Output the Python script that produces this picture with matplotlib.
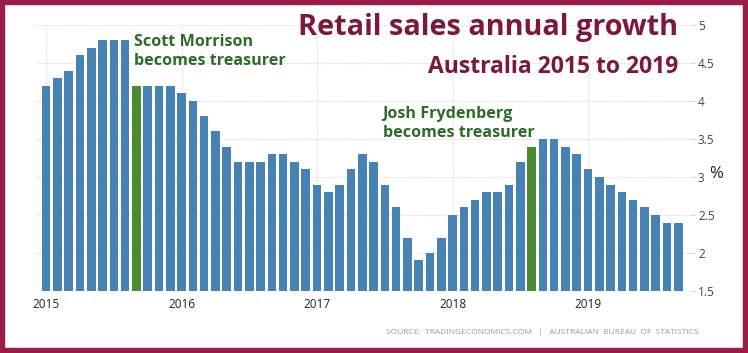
import matplotlib.pyplot as plt
from matplotlib.patches import Rectangle

# monthly retail sales annual growth, Jan 2015 .. Sep 2019
growth = [4.2, 4.3, 4.4, 4.6, 4.7, 4.8, 4.8, 4.8, 4.2, 4.2, 4.2, 4.2,
          4.1, 4.0, 3.8, 3.6, 3.4, 3.2, 3.2, 3.2, 3.3, 3.3, 3.2, 3.1,
          2.9, 2.8, 2.9, 3.1, 3.3, 3.2, 2.9, 2.6, 2.2, 1.9, 2.0, 2.2,
          2.5, 2.6, 2.7, 2.8, 2.8, 2.9, 3.2, 3.4, 3.5, 3.5, 3.4, 3.3,
          3.1, 3.0, 2.9, 2.8, 2.7, 2.6, 2.5, 2.4, 2.4]
years = ['2015', '2016', '2017', '2018', '2019']
yticks = [1.5, 2, 2.5, 3, 3.5, 4, 4.5, 5]
ytick_labels = ['1.5', '2', '2.5', '3', '3.5', '4', '4.5', '5']
# months where a new treasurer took office (Sep 2015, Aug 2018)
highlight = [8, 43]

blue = '#4682b4'
green = '#4b8b32'
txt_green = '#2e6b2a'
maroon = '#7c1838'
border = '#9c1c48'

plt.rcParams['font.family'] = ['Open Sans', 'DejaVu Sans']

fig = plt.figure(figsize=(7.48, 3.53), dpi=100)
ax = fig.add_axes([0.048, 0.176, 0.874, 0.753])

x = list(range(len(growth)))
colors = [green if i in highlight else blue for i in x]
ax.bar(x, [g - 1.5 for g in growth], bottom=1.5, width=0.76, color=colors, zorder=2)

ax.set_ylim(1.5, 5)
ax.set_xlim(-0.9, len(growth))
ax.set_yticks(yticks)
ax.set_yticklabels(ytick_labels)
ax.set_xticks([12 * i for i in range(len(years))])
ax.set_xticklabels(years)
ax.yaxis.tick_right()
ax.tick_params(axis='y', length=4, color='#d8d8d8', labelsize=8.5, labelcolor='#444444', pad=2)
ax.tick_params(axis='x', length=0, labelsize=8.5, labelcolor='#222222', pad=5)
ax.grid(True, color='#dddddd', linestyle=(0, (1, 1)), linewidth=0.9, zorder=0)
for s in ax.spines.values():
    s.set_visible(False)

ax.text(1.041, 0.44, '%', transform=ax.transAxes, fontsize=12, va='center', ha='center', color='#222222')

fig.text(0.907, 0.922, 'Retail sales annual growth', ha='right', va='center',
         fontsize=20.8, fontweight='bold', color=maroon)
fig.text(0.907, 0.81, 'Australia 2015 to 2019', ha='right', va='center',
         fontsize=16.5, fontweight='bold', color=maroon)

ax.text(7.8, 4.88, 'Scott Morrison\nbecomes treasurer', ha='left', va='top',
        fontsize=11.6, fontweight='bold', color=txt_green, linespacing=1.25)
ax.text(29.8, 3.94, 'Josh Frydenberg\nbecomes treasurer', ha='left', va='top',
        fontsize=11.6, fontweight='bold', color=txt_green, linespacing=1.25)

fig.text(0.934, 0.058, 'SOURCE:  TRADINGECONOMICS.COM   |   AUSTRALIAN  BUREAU  OF  STATISTICS',
         ha='right', va='center', fontsize=6, color='#999999')

fig.patches.append(Rectangle((0, 0), 1, 1, transform=fig.transFigure, fill=False,
                             edgecolor=border, linewidth=7.5, zorder=10))

fig.savefig('out.png', dpi=100)
